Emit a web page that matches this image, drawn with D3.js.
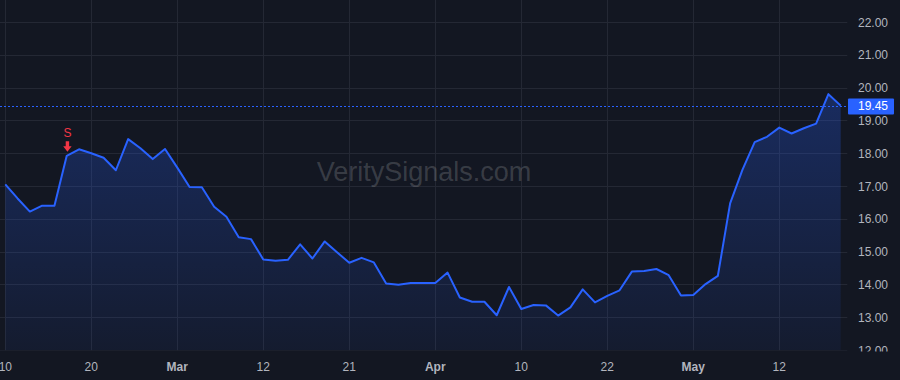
<!DOCTYPE html>
<html>
<head>
<meta charset="utf-8">
<script src="https://cdn.jsdelivr.net/npm/d3@7"></script>
<style>
html,body{margin:0;padding:0;background:#131722;}
svg{display:block;}
</style>
</head>
<body>
<svg id="chart" width="900" height="380"></svg>
<script>
// Trading days Feb 10 – May 19, 2025
const dates = [
  "2025-02-10","2025-02-11","2025-02-12","2025-02-13","2025-02-14","2025-02-18","2025-02-19","2025-02-20",
  "2025-02-21","2025-02-24","2025-02-25","2025-02-26","2025-02-27","2025-02-28","2025-03-03",
  "2025-03-04","2025-03-05","2025-03-06","2025-03-07","2025-03-10","2025-03-11","2025-03-12",
  "2025-03-13","2025-03-14","2025-03-17","2025-03-18","2025-03-19","2025-03-20","2025-03-21",
  "2025-03-24","2025-03-25","2025-03-26","2025-03-27","2025-03-28","2025-03-31","2025-04-01",
  "2025-04-02","2025-04-03","2025-04-04","2025-04-07","2025-04-08","2025-04-09","2025-04-10",
  "2025-04-11","2025-04-14","2025-04-15","2025-04-16","2025-04-17","2025-04-21","2025-04-22",
  "2025-04-23","2025-04-24","2025-04-25","2025-04-28","2025-04-29","2025-04-30","2025-05-01",
  "2025-05-02","2025-05-05","2025-05-06","2025-05-07","2025-05-08","2025-05-09","2025-05-12",
  "2025-05-13","2025-05-14","2025-05-15","2025-05-16","2025-05-19"
];
const prices = [
  17.05,16.62,16.22,16.40,16.40,17.92,18.12,18.00,
  17.86,17.48,18.43,18.15,17.82,18.13,17.56,
  16.97,16.96,16.37,16.06,15.44,15.38,14.76,
  14.72,14.75,15.22,14.79,15.31,14.98,14.66,
  14.81,14.67,14.03,13.99,14.04,14.04,14.04,
  14.36,13.60,13.47,13.47,13.06,13.92,13.25,
  13.37,13.36,13.05,13.30,13.85,13.45,13.65,
  13.82,14.39,14.41,14.47,14.28,13.66,13.68,
  14.01,14.26,16.47,17.49,18.34,18.50,18.78,
  18.60,18.76,18.90,19.80,19.45
];
const tickDates = ["2025-02-10","2025-02-20","2025-03-03","2025-03-12","2025-03-21","2025-04-01","2025-04-10","2025-04-22","2025-05-01","2025-05-12"];
const tickLabels = ["10","20","Mar","12","21","Apr","10","22","May","12"];
const boldTicks = ["Mar","Apr","May"];
const yTicks = [12,13,14,15,16,17,18,19,20,21,22];
const lastPrice = 19.45;
const signalDate = "2025-02-18";
const signalLabel = "S";
const watermark = "VeritySignals.com";

const svg = d3.select("#chart");
const W = 900, H = 380;
const plotRight = 847.5, plotBottom = 350.5;
const font = "'Liberation Sans', Arial, sans-serif";

const x = d3.scalePoint().domain(dates).range([5.3, 840.7]);
const y = d3.scaleLinear().domain([12, 22]).range([350, 22]);

svg.append("rect").attr("width", W).attr("height", H).attr("fill", "#131722");

const defs = svg.append("defs");
const grad = defs.append("linearGradient").attr("id", "areaGrad")
  .attr("gradientUnits", "userSpaceOnUse").attr("x1", 0).attr("x2", 0).attr("y1", 90).attr("y2", 350);
grad.append("stop").attr("offset", 0).attr("stop-color", "#2962ff").attr("stop-opacity", 0.28);
grad.append("stop").attr("offset", 1).attr("stop-color", "#2962ff").attr("stop-opacity", 0.06);

defs.append("clipPath").attr("id", "plotClip").append("rect")
  .attr("x", 0).attr("y", 0).attr("width", plotRight).attr("height", plotBottom);
defs.append("clipPath").attr("id", "axisClip").append("rect")
  .attr("x", plotRight).attr("y", 0).attr("width", W - plotRight).attr("height", 351.5);

// grid
const grid = svg.append("g").attr("clip-path", "url(#plotClip)");
grid.selectAll("line.h").data(yTicks).join("line")
  .attr("x1", 0).attr("x2", plotRight)
  .attr("y1", d => Math.round(y(d)) + 0.5).attr("y2", d => Math.round(y(d)) + 0.5)
  .attr("stroke", "#242834").attr("stroke-width", 1);
grid.selectAll("line.v").data(tickDates).join("line")
  .attr("x1", d => Math.round(x(d)) + 0.5).attr("x2", d => Math.round(x(d)) + 0.5)
  .attr("y1", 0).attr("y2", plotBottom)
  .attr("stroke", "#242834").attr("stroke-width", 1);

// watermark
svg.append("text").attr("x", 424).attr("y", 181).attr("text-anchor", "middle")
  .attr("font-family", font).attr("font-size", 27).attr("fill", "rgba(255,255,255,0.17)")
  .text(watermark);

const series = dates.map((d, i) => ({ d, v: prices[i] }));
const plot = svg.append("g").attr("clip-path", "url(#plotClip)");
plot.append("path").datum(series)
  .attr("d", d3.area().x(p => x(p.d)).y0(350).y1(p => y(p.v)))
  .attr("fill", "url(#areaGrad)");
plot.append("path").datum(series)
  .attr("d", d3.line().x(p => x(p.d)).y(p => y(p.v)))
  .attr("fill", "none").attr("stroke", "#2962ff").attr("stroke-width", 2)
  .attr("stroke-linejoin", "round");

// last price dotted line
plot.append("line").attr("x1", 0).attr("x2", plotRight)
  .attr("y1", Math.round(y(lastPrice)) + 0.5).attr("y2", Math.round(y(lastPrice)) + 0.5)
  .attr("stroke", "#2962ff").attr("stroke-width", 1).attr("stroke-dasharray", "2,2");

// signal marker
const sx = x(signalDate) + 0.7, sy = y(prices[dates.indexOf(signalDate)]);
svg.append("text").attr("x", sx).attr("y", sy - 19).attr("text-anchor", "middle")
  .attr("font-family", font).attr("font-size", 12).attr("fill", "#f23645").text(signalLabel);
svg.append("path")
  .attr("d", `M${sx-1.7},${sy-14.5} L${sx+1.7},${sy-14.5} L${sx+1.7},${sy-9.5} L${sx+4.2},${sy-9.5} L${sx},${sy-4} L${sx-4.2},${sy-9.5} L${sx-1.7},${sy-9.5} Z`)
  .attr("fill", "#f23645");

// y axis labels
const yAxisG = svg.append("g").attr("clip-path", "url(#axisClip)");
yAxisG.selectAll("text").data(yTicks).join("text")
  .attr("x", 858).attr("y", d => y(d) + 4.5)
  .attr("font-family", font).attr("font-size", 12).attr("fill", "#b2b5be")
  .text(d => d3.format(".2f")(d));

// last price label
svg.append("rect").attr("x", 848).attr("y", Math.round(y(lastPrice)) - 7.5).attr("width", 46).attr("height", 16)
  .attr("rx", 1).attr("fill", "#2962ff");
svg.append("text").attr("x", 858).attr("y", y(lastPrice) + 4.5)
  .attr("font-family", font).attr("font-size", 12).attr("fill", "#ffffff")
  .text(d3.format(".2f")(lastPrice));

// x axis labels
svg.append("g").selectAll("text").data(tickDates).join("text")
  .attr("x", d => x(d)).attr("y", 371).attr("text-anchor", "middle")
  .attr("font-family", font).attr("font-size", 12)
  .attr("font-weight", (d, i) => boldTicks.includes(tickLabels[i]) ? "bold" : "normal")
  .attr("fill", "#b2b5be")
  .text((d, i) => tickLabels[i]);
</script>
</body>
</html>
